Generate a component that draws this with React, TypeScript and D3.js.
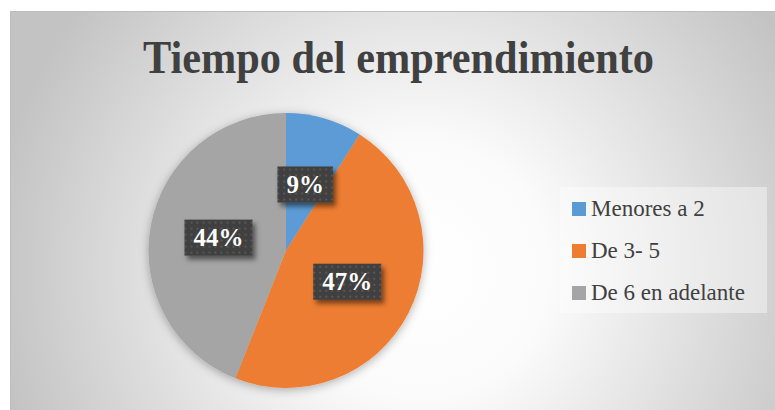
import React from "react";
import * as d3 from "d3";

const categories = ["Menores a 2", "De 3- 5", "De 6 en adelante"];
const values = [9, 47, 44];
const colors = ["#5b9bd5", "#ed7d31", "#a5a5a5"];
const title = "Tiempo del emprendimiento";

const W = 775;
const H = 410;
const FONT = '"Liberation Serif"';

function measure(text: string, font: string): number {
  const c = document.createElement("canvas");
  const ctx = c.getContext("2d");
  if (!ctx) return text.length * 13;
  ctx.font = font;
  return ctx.measureText(text).width;
}

export default function App() {
  const cx = 286;
  const cy = 250.5;
  const r = 137.5;
  const pie = d3.pie<number>().sort(null).value((d) => d);
  const arcs = pie(values);
  const arc = d3.arc<d3.PieArcDatum<number>>().innerRadius(0).outerRadius(r);
  const total = d3.sum(values);
  const ly = d3.scalePoint<string>().domain(categories).range([209, 293]);

  return (
    <svg width={W} height={H} style={{ position: "absolute", left: 0, top: 0, display: "block" }}>
      <defs>
        <radialGradient id="bg" gradientUnits="userSpaceOnUse" cx={420} cy={270} r={430}>
          <stop offset={0} stopColor="#ffffff" />
          <stop offset={0.3} stopColor="#fbfbfb" />
          <stop offset={1} stopColor="#c3c3c3" />
        </radialGradient>
        <pattern id="dots" patternUnits="userSpaceOnUse" width={6} height={6}>
          <rect width={6} height={6} fill="#3f3f3f" />
          <rect x={2} y={2} width={2} height={2} fill="#585858" />
        </pattern>
        <filter id="pieShadow" x="-20%" y="-20%" width="140%" height="140%">
          <feDropShadow dx={0} dy={2} stdDeviation={5} floodColor="#000" floodOpacity={0.3} />
        </filter>
        <filter id="boxShadow" x="-30%" y="-30%" width="160%" height="160%">
          <feDropShadow dx={3} dy={4} stdDeviation={2.5} floodColor="#000" floodOpacity={0.5} />
        </filter>
      </defs>
      <rect width={W} height={H} fill="#ffffff" />
      <rect x={10.5} y={11.5} width={W} height={H} fill="url(#bg)" stroke="#bdbdbd" strokeWidth={1} />
      <text
        x={143}
        y={73}
        textLength={511}
        lengthAdjust="spacingAndGlyphs"
        fill="#404040"
        style={{ fontFamily: FONT, fontWeight: "bold", fontSize: 46 }}
      >
        {title}
      </text>
      <g transform={`translate(${cx},${cy})`}>
        <g filter="url(#pieShadow)">
          {arcs.map((a, i) => (
            <path key={i} d={arc(a) as string} fill={colors[i]} />
          ))}
        </g>
        {arcs.map((a, i) => {
          const [lx, ly2] = arc.centroid(a);
          const label = `${Math.round((values[i] / total) * 100)}%`;
          const bw = measure(label, `bold 25px "Liberation Serif"`) + 18;
          const bh = 36;
          return (
            <g key={i} transform={`translate(${lx},${ly2})`}>
              <rect x={-bw / 2} y={-bh / 2} width={bw} height={bh} fill="url(#dots)" filter="url(#boxShadow)" />
              <text
                textAnchor="middle"
                y={8.5}
                fill="#ffffff"
                style={{ fontFamily: FONT, fontWeight: "bold", fontSize: 25 }}
              >
                {label}
              </text>
            </g>
          );
        })}
      </g>
      <g>
        <rect x={560} y={187} width={207} height={126} fill="#ffffff" fillOpacity={0.4} />
        {categories.map((c, i) => {
          const y = ly(c) as number;
          return (
            <g key={c}>
              <rect x={572} y={y - 7} width={14} height={14} fill={colors[i]} />
              <text x={591} y={y + 7} fill="#404040" style={{ fontFamily: FONT, fontSize: 23 }}>
                {c}
              </text>
            </g>
          );
        })}
      </g>
    </svg>
  );
}
